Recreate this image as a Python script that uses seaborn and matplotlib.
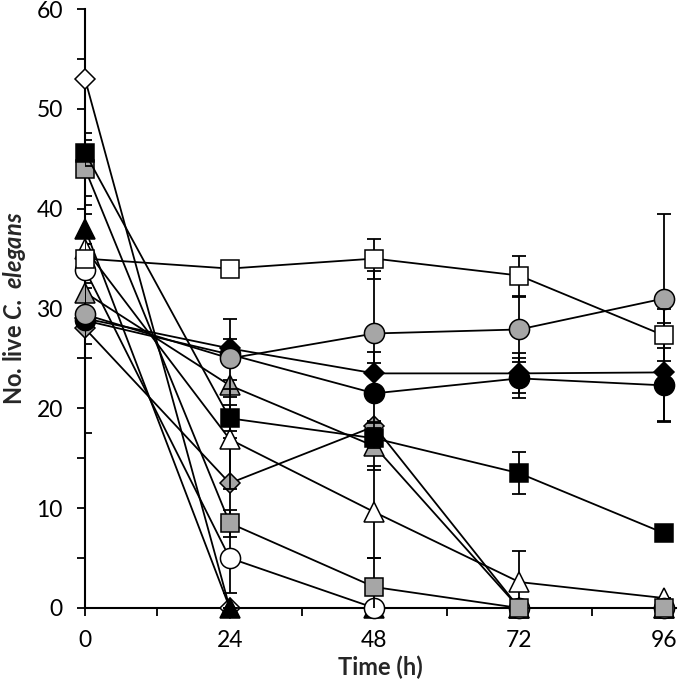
import numpy as np
import pandas as pd
import matplotlib
matplotlib.use('Agg')
import matplotlib.pyplot as plt
import seaborn as sns
from matplotlib.ticker import MultipleLocator, FuncFormatter

# ------------------------------------------------------------------
# Data (live worms per time point, mean +/- error)
# ------------------------------------------------------------------
time_h = [0, 24, 48, 72, 96]

white_square   = [35.0, 34.0, 35.0, 33.3, 27.3]
grey_circle    = [29.4, 25.0, 27.5, 27.9, 31.0]
black_diamond  = [29.0, 26.0, 23.5, 23.5, 23.6]
black_circle   = [28.8, 25.4, 21.5, 23.0, 22.3]
black_square   = [45.6, 19.0, 17.0, 13.5, 7.5]
grey_triangle  = [31.6, 22.3, 16.2, 0.0, 0.0]
white_triangle = [36.0, 16.9, 9.6, 2.6, 1.0]
grey_diamond   = [28.0, 12.5, 18.2, 0.0, 0.0]
grey_square    = [44.0, 8.5, 2.1, 0.0, 0.0]
white_circle   = [33.9, 5.0, 0.0, 0.0, 0.0]
black_triangle = [38.0, 0.0, 0.0, 0.0, 0.0]
white_diamond  = [53.0, 0.0, 0.0, 0.0, 0.0]

err_white_square   = [0.5, 0.5, 2.0, 2.0, 2.6]
err_grey_circle    = [11.9, 3.9, 6.3, 3.3, 8.5]
err_black_diamond  = [0.5, 0.9, 2.1, 2.0, 4.9]
err_black_circle   = [3.8, 0.5, 3.0, 2.0, 3.7]
err_black_square   = [1.3, 1.3, 1.0, 2.1, 0.3]
err_grey_triangle  = [0.5, 0.5, 2.4, 0.0, 0.0]
err_white_triangle = [0.5, 5.0, 4.6, 3.1, 0.0]
err_grey_diamond   = [1.6, 4.5, 0.5, 0.0, 0.0]
err_grey_square    = [3.6, 1.35, 2.9, 0.0, 0.0]
err_white_circle   = [0.5, 3.5, 0.0, 0.0, 0.0]
err_black_triangle = [1.5, 0.0, 0.0, 0.0, 0.0]
err_white_diamond  = [0.0, 0.0, 0.0, 0.0, 0.0]

GREY = '#a6a6a6'

# drawn bottom -> top
series = [
    (white_diamond,  err_white_diamond,  'D', 'white'),
    (black_triangle, err_black_triangle, '^', 'black'),
    (grey_diamond,   err_grey_diamond,   'D', GREY),
    (grey_triangle,  err_grey_triangle,  '^', GREY),
    (white_triangle, err_white_triangle, '^', 'white'),
    (black_circle,   err_black_circle,   'o', 'black'),
    (black_diamond,  err_black_diamond,  'D', 'black'),
    (grey_circle,    err_grey_circle,    'o', GREY),
    (white_circle,   err_white_circle,   'o', 'white'),
    (grey_square,    err_grey_square,    's', GREY),
    (black_square,   err_black_square,   's', 'black'),
    (white_square,   err_white_square,   's', 'white'),
]
msize = {'s': 13.5, 'o': 14.5, '^': 14, 'D': 10}

sns.set_style('ticks')
plt.rcParams['font.family'] = ['Lato', 'DejaVu Sans']
plt.rcParams['mathtext.fontset'] = 'custom'
plt.rcParams['mathtext.rm'] = 'Lato'
plt.rcParams['mathtext.bf'] = 'Lato:bold'
plt.rcParams['mathtext.bfit'] = 'Lato:italic:bold'

fig = plt.figure(figsize=(6.8, 6.87), dpi=100)
ax = fig.add_axes([85 / 680, 79 / 687, 591 / 680, 599 / 687])

for i, (vals, errs, mk, face) in enumerate(series):
    z = 3 + i
    ax.errorbar(time_h, vals, yerr=errs, fmt='none', ecolor='black',
                elinewidth=1.3, capsize=5, capthick=1.3, zorder=z)
    df = pd.DataFrame({'t': time_h, 'n': vals})
    sns.lineplot(data=df, x='t', y='n', ax=ax, color='black', linewidth=1.3,
                 marker=mk, markersize=msize[mk], markerfacecolor=face,
                 markeredgecolor='black', markeredgewidth=1.1,
                 zorder=z + 0.5, clip_on=False, legend=False)

ax.set_xlim(0, 98)
ax.set_ylim(0, 60)

ax.xaxis.set_major_locator(MultipleLocator(12))
ax.xaxis.set_major_formatter(FuncFormatter(lambda v, p: f'{v:.0f}' if v % 24 == 0 else ''))
ax.yaxis.set_major_locator(MultipleLocator(5))
ax.yaxis.set_major_formatter(FuncFormatter(lambda v, p: f'{v:.0f}' if v % 10 == 0 else ''))
ax.tick_params(axis='both', direction='out', length=6, width=1.3, colors='black',
               labelsize=16.5, pad=10)

for side in ['top', 'right']:
    ax.spines[side].set_visible(False)
for side in ['left', 'bottom']:
    ax.spines[side].set_linewidth(1.5)
    ax.spines[side].set_color('black')
    ax.spines[side].set_zorder(2)

ax.set_xlabel('Time (h)', fontsize=17, fontweight='bold', labelpad=3)
ax.set_ylabel(r'No. live $\mathbfit{C.}$ $\mathbfit{elegans}$', fontsize=17,
              fontweight='bold', labelpad=6)

fig.savefig('out.png', dpi=100)
plt.close(fig)
